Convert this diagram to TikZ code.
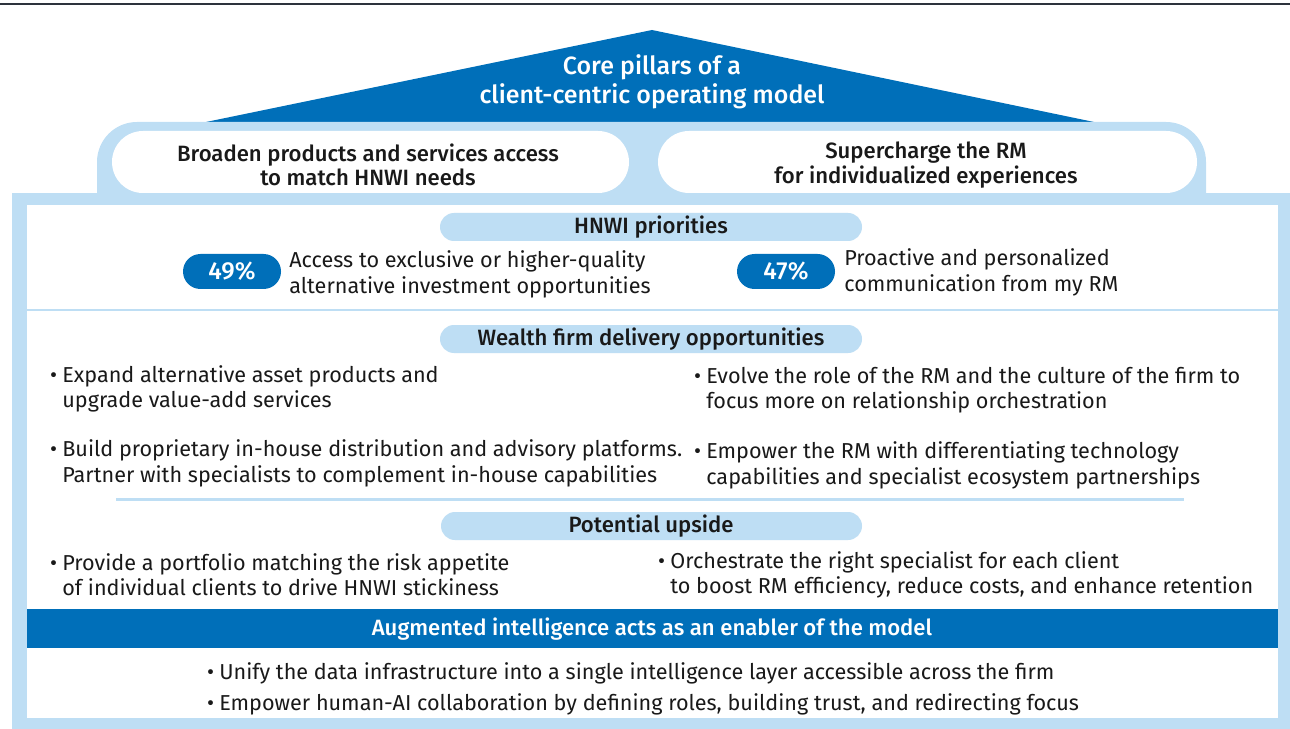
\documentclass[tikz,border=0pt]{standalone}
\usepackage{fontspec}
\setmainfont{Fira Sans}[BoldFont={Fira Sans Medium}]
\usepackage{xcolor}
\definecolor{darkblue}{RGB}{0,111,185}
\definecolor{lightblue}{RGB}{190,222,244}
\definecolor{rulegray}{RGB}{45,50,60}
\definecolor{bodytext}{RGB}{25,25,25}
\newcommand\hangbul{\llap{\textbullet\hspace{3pt}}}

\tikzset{
  body/.style={anchor=west, align=left, inner sep=0pt, text=bodytext,
    font=\fontsize{12.3}{14.4}\selectfont},
  headtext/.style={inner sep=0pt, align=center, text=bodytext,
    font=\bfseries\fontsize{12.6}{14}\selectfont},
  pcttext/.style={inner sep=0pt, text=white, font=\bfseries\fontsize{14}{14}\selectfont},
}

\begin{document}
\begin{tikzpicture}[x=0.02cm,y=-0.02cm]
  \useasboundingbox (0,0) rectangle (1290,729);
  \draw[rulegray, line width=0.03cm] (0,4) -- (1290,4);

  % roof
  \fill[darkblue] (206,122) -- (652,30) -- (1094,122) -- cycle;
  \node (core) [inner sep=0pt, align=center, text=white,
    font=\bfseries\fontsize{14.2}{16.4}\selectfont] at (652,81.5)
    {Core pillars of a\\client-centric operating model};
  \fill[lightblue, rounded corners=0.8cm] (97,122) rectangle (1206,240);

  % frame
  \fill[lightblue] (12,193) rectangle (1290,729);
  \fill[white] (27,205) rectangle (1278,718);

  % pillars
  \fill[white, rounded corners=0.62cm] (112,131) rectangle (629,193);
  \fill[white, rounded corners=0.62cm] (658,131) rectangle (1197,193);
  \node (pl) [headtext] at (368,165) {Broaden products and services access\\to match HNWI needs};
  \node (pr) [headtext] at (926,165) {Supercharge the RM\\for individualized experiences};

  % HNWI priorities
  \fill[lightblue, rounded corners=0.28cm] (440,213) rectangle (862,241);
  \node (prio) [headtext] at (651,227) {HNWI priorities};
  \fill[darkblue, rounded corners=0.35cm] (183,254) rectangle (281,289);
  \node (p49) [pcttext] at (232,271.5) {49\%};
  \node (acc) [body] at (289,274.5) {Access to exclusive or higher-quality\\alternative investment opportunities};
  \fill[darkblue, rounded corners=0.35cm] (737,254) rectangle (835,289);
  \node (p47) [pcttext] at (786,271.5) {47\%};
  \node (pro) [body] at (844,272.5) {Proactive and personalized\\communication from my RM};
  \draw[lightblue, line width=0.06cm] (27,310) -- (1278,310);

  % delivery opportunities
  \fill[lightblue, rounded corners=0.28cm] (440,325) rectangle (862,353);
  \node (deliv) [headtext] at (651,339) {Wealth firm delivery opportunities};
  \node (exp) [body] at (62,389) {\hangbul Expand alternative asset products and\\upgrade value-add services};
  \node (bld) [body] at (62,463.5) {\hangbul Build proprietary in-house distribution and advisory platforms.\\Partner with specialists to complement in-house capabilities};
  \node (evo) [body] at (706,390.5) {\hangbul Evolve the role of the RM and the culture of the firm to\\focus more on relationship orchestration};
  \node (emp) [body] at (706,465.5) {\hangbul Empower the RM with differentiating technology\\capabilities and specialist ecosystem partnerships};
  \draw[lightblue, line width=0.06cm] (116,499) -- (1184,499);

  % upside
  \fill[lightblue, rounded corners=0.28cm] (441,512) rectangle (862,540);
  \node (ups) [headtext] at (651,526) {Potential upside};
  \node (prv) [body] at (62,575) {\hangbul Provide a portfolio matching the risk appetite\\of individual clients to drive HNWI stickiness};
  \node (orc) [body] at (670,575) {\hangbul Orchestrate the right specialist for each client\\to boost RM efficiency, reduce costs, and enhance retention};

  % enabler
  \fill[darkblue] (27,609) rectangle (1278,648);
  \node (aug) [headtext, text=white] at (652,629) {Augmented intelligence acts as an enabler of the model};
  \node (uni) [body] at (219,673) {\hangbul Unify the data infrastructure into a single intelligence layer accessible across the firm};
  \node (hai) [body] at (219,704) {\hangbul Empower human-AI collaboration by defining roles, building trust, and redirecting focus};
\end{tikzpicture}
\end{document}
